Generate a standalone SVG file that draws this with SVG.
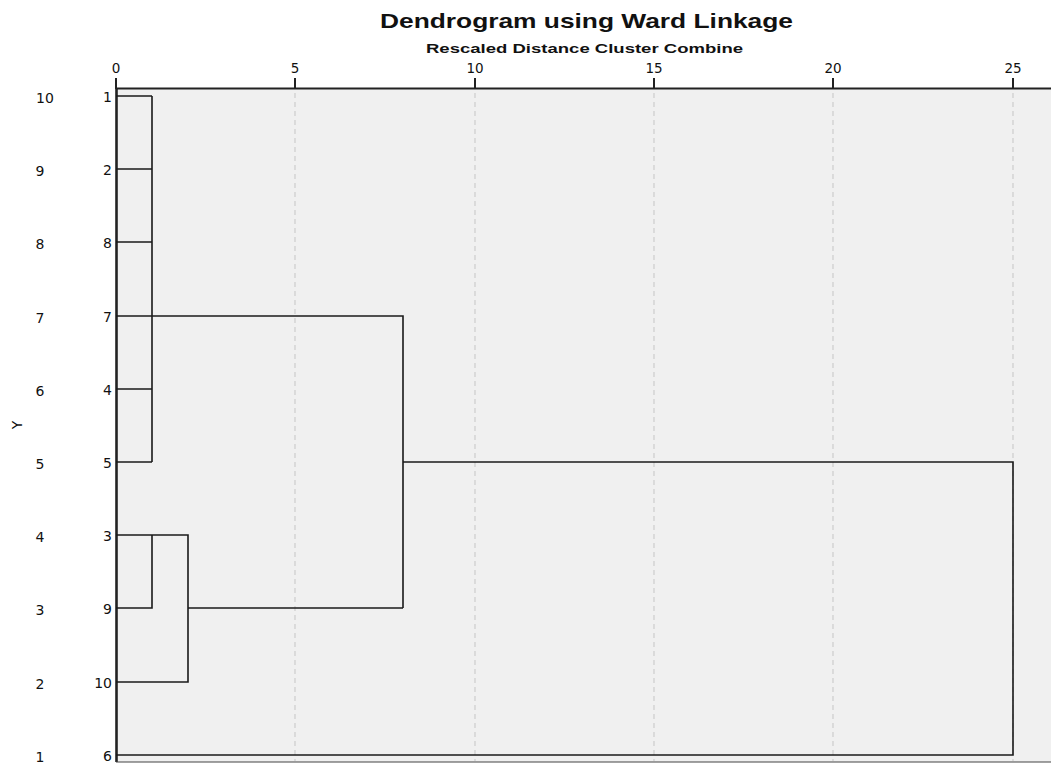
<svg xmlns="http://www.w3.org/2000/svg" width="1051" height="764" viewBox="0 0 1051 764">
<style>
text{font-family:"DejaVu Sans","Liberation Sans",Arial,sans-serif;fill:#111}
.t{font-size:13.5px;text-anchor:middle}
.lab{font-size:14px;text-anchor:end}
.rl{font-size:14px;text-anchor:middle}
.grid{stroke:#cfcfcf;stroke-width:1.3;stroke-dasharray:5,4}
.ln{stroke:#1a1a1a;stroke-width:1.6;fill:none}
.ax{stroke:#222;stroke-width:2;fill:none}
</style>
<rect width="1051" height="764" fill="#fff"/>
<rect x="116" y="89" width="935" height="673" fill="#f0f0f0"/>
<g id="grid">
<line class="grid" x1="295" y1="93" x2="295" y2="761"/>
<line class="grid" x1="475" y1="93" x2="475" y2="761"/>
<line class="grid" x1="654" y1="93" x2="654" y2="761"/>
<line class="grid" x1="833" y1="93" x2="833" y2="761"/>
<line class="grid" x1="1013" y1="93" x2="1013" y2="761"/>
</g>
<g id="title">
<text x="380" y="28" textLength="413" lengthAdjust="spacingAndGlyphs" style="font-family:'Liberation Sans',Arial,sans-serif;font-size:21px;font-weight:bold">Dendrogram using Ward Linkage</text>
<text x="426" y="53" textLength="317" lengthAdjust="spacingAndGlyphs" style="font-family:'Liberation Sans',Arial,sans-serif;font-size:13.5px;font-weight:bold">Rescaled Distance Cluster Combine</text>
</g>
<g id="axis">
<line class="ax" x1="116" y1="88.5" x2="1051" y2="88.5"/>
<line stroke="#222" stroke-width="2.6" x1="116.5" y1="88" x2="116.5" y2="762"/>
<line stroke="#444" stroke-width="1.2" x1="116" y1="762" x2="1051" y2="762"/>
<line class="ax" x1="116" y1="78" x2="116" y2="89"/>
<line class="ax" x1="295" y1="78" x2="295" y2="89"/>
<line class="ax" x1="475" y1="78" x2="475" y2="89"/>
<line class="ax" x1="654" y1="78" x2="654" y2="89"/>
<line class="ax" x1="833" y1="78" x2="833" y2="89"/>
<line class="ax" x1="1013" y1="78" x2="1013" y2="89"/>
<text class="t" x="116" y="73">0</text>
<text class="t" x="295" y="73">5</text>
<text class="t" x="475" y="73">10</text>
<text class="t" x="654" y="73">15</text>
<text class="t" x="833" y="73">20</text>
<text class="t" x="1013" y="73">25</text>
</g>
<g id="ylabels">
<text class="rl" x="45" y="103">10</text>
<text class="rl" x="40" y="176">9</text>
<text class="rl" x="40" y="249">8</text>
<text class="rl" x="40" y="323">7</text>
<text class="rl" x="40" y="396">6</text>
<text class="rl" x="40" y="469">5</text>
<text class="rl" x="40" y="542">4</text>
<text class="rl" x="40" y="615">3</text>
<text class="rl" x="40" y="689">2</text>
<text class="rl" x="40" y="762">1</text>
<text class="rl" transform="translate(22,425) rotate(-90)">Y</text>
</g>
<g id="leaves">
<text class="lab" x="112" y="102">1</text>
<text class="lab" x="112" y="175">2</text>
<text class="lab" x="112" y="248">8</text>
<text class="lab" x="112" y="322">7</text>
<text class="lab" x="112" y="395">4</text>
<text class="lab" x="112" y="468">5</text>
<text class="lab" x="112" y="541">3</text>
<text class="lab" x="112" y="614">9</text>
<text class="lab" x="112" y="688">10</text>
<text class="lab" x="112" y="761">6</text>
</g>
<g id="connectors">
<path class="ln" d="M116 96H152M116 169H152M116 242H152M116 389H152M116 462H152M152 96V462"/>
<path class="ln" d="M116 316H403V608"/>
<path class="ln" d="M116 535H188V682H116M116 608H152V535M188 608H403"/>
<path class="ln" d="M403 462H1013V755H116"/>
</g>
</svg>
